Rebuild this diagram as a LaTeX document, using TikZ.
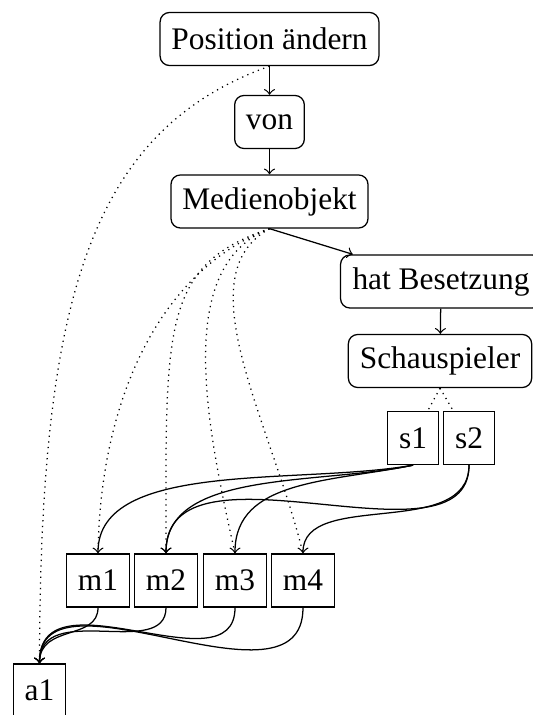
\documentclass[tikz,border=0pt]{standalone}
\usepackage{fontspec}
\setmainfont{Liberation Serif}
\begin{document}
\begin{tikzpicture}[x=0.3185pt,y=-0.3185pt,
  base/.style={draw, inner xsep=3.6pt, inner ysep=0pt, minimum height=16.9pt, font=\fontsize{10pt}{12pt}\selectfont},
  rbox/.style={base, rounded corners=3pt},
  sbox/.style={base},
  arr/.style={->},
  dots/.style={dash pattern=on 0.4pt off 1.4pt}]
\useasboundingbox (0,0) rectangle (532,715);
\node[rbox] (pos) at (269.5,39) {Position ändern};
\node[rbox] (von) at (269.5,122) {von};
\node[rbox] (med) at (269.5,201.5) {Medienobjekt};
\node[rbox, minimum width=64pt] (hat) at (441,281.5) {hat Besetzung};
\node[rbox, minimum width=58.4pt] (sch) at (440,361) {Schauspieler};
\node[sbox] (s1) at (413,438) {s1};
\node[sbox] (s2) at (469,438) {s2};
\node[sbox] (m1) at (98,580.5) {m1};
\node[sbox] (m2) at (166,580.5) {m2};
\node[sbox] (m3) at (235,580.5) {m3};
\node[sbox] (m4) at (303,580.5) {m4};
\node[sbox] (a1) at (39.5,690.5) {a1};
% main chain
\draw[arr] (pos) -- (von);
\draw[arr] (von) -- (med);
\draw[arr] (med.south) -- (hat);
\draw[arr] (hat) -- (sch);
% dotted
\draw[dots] (sch.south) -- (s1);
\draw[dots] (sch.south) -- (s2);
\draw[dots] (pos.south) .. controls +(-179.5,64.5) and +(0.5,-364) .. (a1.north);
\draw[dots] (med.south) .. controls +(-109.5,42) and +(2,-154) .. (m1.north);
\draw[dots] (med.south) .. controls +(-109.5,37) and +(0,-224) .. (m2.north);
\draw[dots] (med.south) .. controls +(-94.5,37) and +(-30,-134) .. (m3.north);
\draw[dots] (med.south) .. controls +(-84.5,47) and +(-33,-134) .. (m4.north);
% s to m
\draw[arr] (s1.south) .. controls +(-113,20) and +(0,-94) .. (m1.north);
\draw[arr] (s1.south) .. controls +(-93,20) and +(0,-84) .. (m2.north);
\draw[arr] (s1.south) .. controls +(-83,17) and +(0,-74) .. (m3.north);
\draw[arr] (s2.south) .. controls +(0,110) and +(0,-124) .. (m2.north);
\draw[arr] (s2.south) .. controls +(0,75) and +(0,-64) .. (m4.north);
% m to a1
\draw[arr] (m1.south) .. controls +(0,33) and +(0.5,-39) .. (a1.north);
\draw[arr] (m2.south) .. controls +(0,53) and +(0,-64) .. (a1.north);
\draw[arr] (m3.south) .. controls +(0,83) and +(0,-94) .. (a1.north);
\draw[arr] (m4.south) .. controls +(0,113) and +(0,-104) .. (a1.north);
\end{tikzpicture}
\end{document}
